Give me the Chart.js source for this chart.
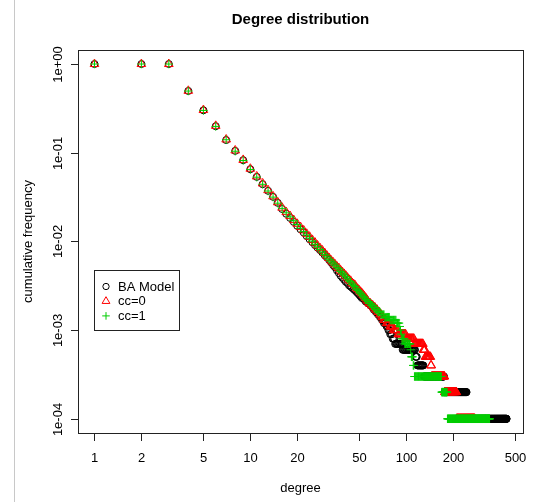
<!DOCTYPE html>
<html>
<head>
<meta charset="utf-8">
<script src="https://cdn.jsdelivr.net/npm/chart.js@4/dist/chart.umd.min.js"></script>
<style>
  html, body { margin: 0; padding: 0; background: #fff; }
  #wrap { position: relative; width: 533px; height: 502px; }
  #edge { position: absolute; left: 14px; top: 0; width: 1px; height: 502px; background: #c8c8c8; }
  canvas { position: absolute; left: 0; top: 0; }
</style>
</head>
<body>
<div id="wrap">
  <div id="edge"></div>
  <canvas id="chart" width="533" height="502"></canvas>
</div>
<script>
// degrees with their own distinct cumulative frequency
const headDegrees = [1,2,3,4,5,6,7,8,9,10,11,12,13,14,15,16,17,18,19,20,
  21,22,23,24,25,26,27,28,29,30,31,32,33,34,35,36,37,38,39,40,
  41,42,43,44,45,46,47,48,49,50];

const baHead = [1,1,1,0.497,0.301,0.199,0.139,0.105,0.0824,0.0652,
  0.0534,0.0442,0.0372,0.0318,0.0272,0.0232,0.0205,0.0184,0.0166,0.0150,
  0.0137,0.0126,0.0115,0.0106,0.0098,0.0091,0.0085,0.0080,0.0075,0.0070,
  0.0066,0.0062,0.0058,0.0054,0.0051,0.0047,0.0044,0.0041,0.0039,0.0037,
  0.0035,0.0034,0.0032,0.0031,0.0030,0.0029,0.0028,0.0027,0.0026,0.0025];

const cc0Head = [1,1,1,0.499,0.303,0.201,0.141,0.106,0.0830,0.0660,
  0.0540,0.0450,0.0378,0.0322,0.0276,0.0240,0.0214,0.0193,0.0174,0.0158,
  0.0145,0.0133,0.0122,0.0113,0.0104,0.0097,0.0090,0.0084,0.0079,0.0074,
  0.0069,0.0065,0.0061,0.0058,0.0055,0.0052,0.0050,0.0047,0.0045,0.0043,
  0.0041,0.0039,0.0037,0.0036,0.0034,0.0033,0.0032,0.0030,0.0029,0.0028];

const cc1Head = [1,1,1,0.496,0.300,0.198,0.140,0.104,0.0818,0.0648,
  0.0530,0.0441,0.0370,0.0316,0.0270,0.0236,0.0210,0.0189,0.0171,0.0155,
  0.0141,0.0129,0.0118,0.0109,0.0101,0.0093,0.0087,0.0081,0.0076,0.0071,
  0.0067,0.0063,0.0060,0.0057,0.0054,0.0051,0.0049,0.0046,0.0044,0.0042,
  0.0040,0.0038,0.0036,0.0035,0.0033,0.0032,0.0031,0.0029,0.0028,0.0027];

// tail: [first degree, last degree, nodes with degree >= k]
const NODES = 10000;
const baTail = [[51,51,24],[52,53,23],[54,54,22],[55,56,21],[57,58,20],[59,60,19],
  [61,61,18],[62,63,17],[64,65,16],[66,67,15],[68,69,14],[70,71,13],[72,74,12],
  [75,76,11],[77,78,10],[79,81,9],[82,84,8],[85,94,7],[95,114,6],[115,117,5],
  [118,129,4],[130,175,3],[176,244,2],[245,441,1]];
const cc0Tail = [[51,51,27],[52,52,26],[53,53,25],[54,54,24],[55,55,23],[56,56,22],
  [57,57,21],[58,59,20],[60,61,19],[62,63,18],[64,65,17],[66,67,16],[68,69,15],
  [70,71,14],[72,74,13],[75,78,12],[79,82,11],[83,88,10],[89,99,9],[100,112,8],
  [113,128,7],[129,132,6],[133,143,5],[144,145,4],[146,176,3],[177,210,2],[211,275,1]];
const cc1Tail = [[51,51,26],[52,52,25],[53,53,24],[54,54,23],[55,56,22],[57,57,21],
  [58,59,20],[60,61,19],[62,63,18],[64,65,17],[66,68,16],[69,72,15],[73,78,14],
  [79,86,13],[87,90,12],[91,91,11],[92,92,10],[93,93,9],[94,97,8],[98,106,7],
  [107,107,6],[108,110,5],[111,112,4],[113,168,3],[169,183,2],[184,343,1]];

const seriesNames = ['BA Model', 'cc=0', 'cc=1'];
const xTicks = [1, 2, 5, 10, 20, 50, 100, 200, 500];
const yTicks = [1, 0.1, 0.01, 0.001, 0.0001];
const yTickLabels = ['1e+00', '1e-01', '1e-02', '1e-03', '1e-04'];

const FONT = '"Liberation Sans", Arial, Helvetica, sans-serif';

function toPoints(head, tail) {
  const pts = headDegrees.map((k, i) => ({ x: k, y: head[i] }));
  tail.forEach(([a, b, n]) => {
    for (let k = a; k <= b; k++) pts.push({ x: k, y: n / NODES });
  });
  return pts;
}

const styles = [
  { pointStyle: 'circle',   radius: 3.5, color: '#000000' },
  { pointStyle: 'triangle', radius: 5,   color: '#FF0000' },
  { pointStyle: 'cross',    radius: 4.2, color: '#00CD00' }
];

const datasets = [baHead, cc0Head, cc1Head].map((head, i) => ({
  label: seriesNames[i],
  data: toPoints(head, [baTail, cc0Tail, cc1Tail][i]),
  showLine: false,
  pointStyle: styles[i].pointStyle,
  pointRadius: styles[i].radius,
  pointBorderWidth: 1,
  borderColor: styles[i].color,
  backgroundColor: 'rgba(0,0,0,0)',
  order: 2 - i
}));

// frame, axes, labels and legend drawn in R style
const rFrame = {
  id: 'rFrame',
  afterDraw(chart) {
    const ctx = chart.ctx;
    const { left, right, top, bottom } = chart.chartArea;
    const xs = chart.scales.x, ys = chart.scales.y;
    ctx.save();
    ctx.strokeStyle = '#222';
    ctx.lineWidth = 1;
    ctx.strokeRect(left + 0.5, top + 0.5, right - left, bottom - top);

    ctx.fillStyle = '#000';
    ctx.font = '13px ' + FONT;
    ctx.textAlign = 'center';
    ctx.textBaseline = 'middle';

    xTicks.forEach(v => {
      const px = Math.round(xs.getPixelForValue(v)) + 0.5;
      ctx.beginPath(); ctx.moveTo(px, bottom + 0.5); ctx.lineTo(px, bottom + 8); ctx.stroke();
      ctx.fillText(String(v), px, 458);
    });

    yTicks.forEach((v, i) => {
      const py = Math.round(ys.getPixelForValue(v)) + 0.5;
      ctx.beginPath(); ctx.moveTo(left - 7, py); ctx.lineTo(left + 0.5, py); ctx.stroke();
      ctx.save();
      ctx.translate(58, py);
      ctx.rotate(-Math.PI / 2);
      ctx.fillText(yTickLabels[i], 0, 0);
      ctx.restore();
    });

    const cx = (left + right) / 2;
    ctx.fillText('degree', cx, 488);
    ctx.save();
    ctx.translate(28, (top + bottom) / 2);
    ctx.rotate(-Math.PI / 2);
    ctx.fillText('cumulative frequency', 0, 0);
    ctx.restore();

    ctx.font = 'bold 15px ' + FONT;
    ctx.fillText('Degree distribution', cx, 19.5);

    // legend
    ctx.strokeStyle = '#222';
    ctx.strokeRect(94.5, 270.5, 85, 60);
    const rows = [286.5, 301.2, 315.9];
    ctx.font = '13px ' + FONT;
    ctx.textAlign = 'left';
    seriesNames.forEach((name, i) => {
      ctx.strokeStyle = styles[i].color;
      ctx.fillStyle = 'rgba(0,0,0,0)';
      ctx.lineWidth = 1;
      Chart.helpers.drawPoint(ctx, {
        pointStyle: styles[i].pointStyle,
        radius: styles[i].radius * 0.9,
        borderWidth: 1,
        rotation: 0
      }, 106, rows[i]);
      ctx.fillStyle = '#000';
      ctx.fillText(name, 118, rows[i] + 0.5);
    });
    ctx.restore();
  }
};

new Chart(document.getElementById('chart'), {
  type: 'scatter',
  data: { datasets },
  options: {
    responsive: false,
    animation: false,
    events: [],
    layout: { padding: { left: 78, right: 10, top: 50, bottom: 69 } },
    plugins: {
      legend: { display: false },
      tooltip: { enabled: false },
      title: { display: false }
    },
    scales: {
      x: { type: 'logarithmic', min: 0.784, max: 562, display: false },
      y: { type: 'logarithmic', min: 6.92e-5, max: 1.44, display: false }
    }
  },
  plugins: [rFrame]
});
</script>
</body>
</html>
